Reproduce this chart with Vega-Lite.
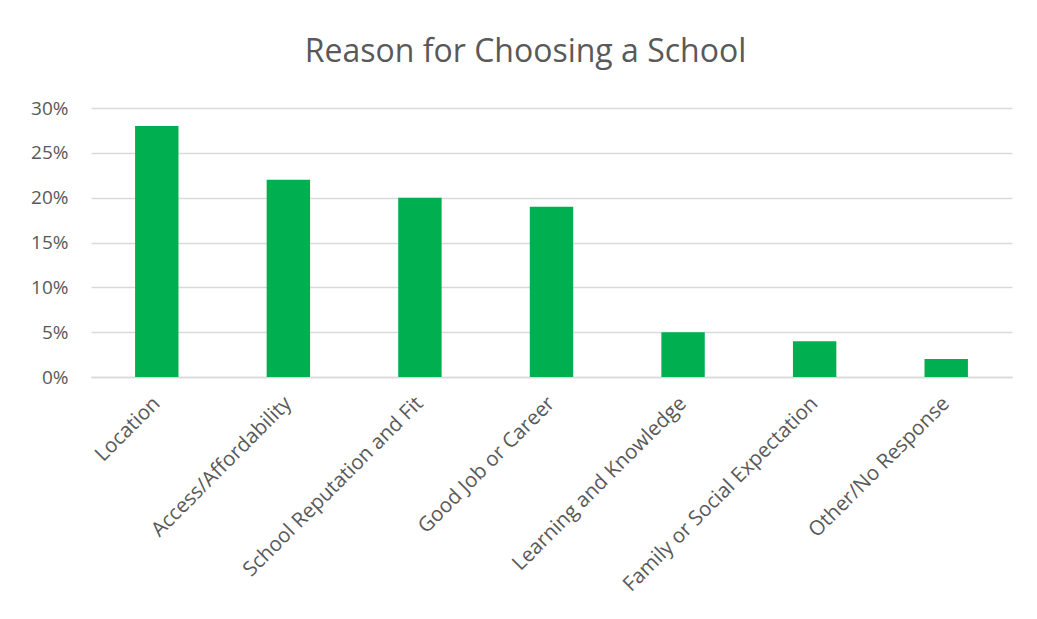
{
  "$schema": "https://vega.github.io/schema/vega-lite/v6.json",
  "width": 921,
  "height": 269,
  "autosize": {"type": "none"},
  "padding": {"left": 91, "top": 108, "right": 25, "bottom": 242},
  "background": "white",
  "title": {
    "text": "Reason for Choosing a School",
    "font": "Open Sans",
    "fontSize": 32,
    "fontWeight": "normal",
    "color": "#595959",
    "anchor": "middle",
    "offset": 30,
    "dx": -26
  },
  "data": {
    "values": [
      {"reason": "Location", "share": 0.28},
      {"reason": "Access/Affordability", "share": 0.22},
      {"reason": "School Reputation and Fit", "share": 0.20},
      {"reason": "Good Job or Career", "share": 0.19},
      {"reason": "Learning and Knowledge", "share": 0.05},
      {"reason": "Family or Social Expectation", "share": 0.04},
      {"reason": "Other/No Response", "share": 0.02}
    ]
  },
  "config": {
    "view": {"stroke": null},
    "axis": {"labelFont": "Open Sans", "labelColor": "#595959", "labelFontSize": 19}
  },
  "mark": {"type": "bar", "color": "#00B050"},
  "encoding": {
    "x": {
      "field": "reason",
      "type": "nominal",
      "sort": null,
      "scale": {"paddingInner": 0.67, "paddingOuter": 0.335},
      "axis": {
        "title": null,
        "labelAngle": -45,
        "labelAlign": "right",
        "labelBaseline": "middle",
        "labelPadding": 23,
        "labelFontSize": 20.5,
        "ticks": false,
        "domainColor": "#d9d9d9",
        "domainWidth": 1.5,
        "labelLimit": 400
      }
    },
    "y": {
      "field": "share",
      "type": "quantitative",
      "scale": {"domain": [0, 0.3]},
      "axis": {
        "title": null,
        "format": ".0%",
        "values": [0, 0.05, 0.1, 0.15, 0.2, 0.25, 0.3],
        "domain": false,
        "ticks": false,
        "labelPadding": 23,
        "gridColor": "#d9d9d9",
        "gridWidth": 1.5
      }
    }
  }
}
